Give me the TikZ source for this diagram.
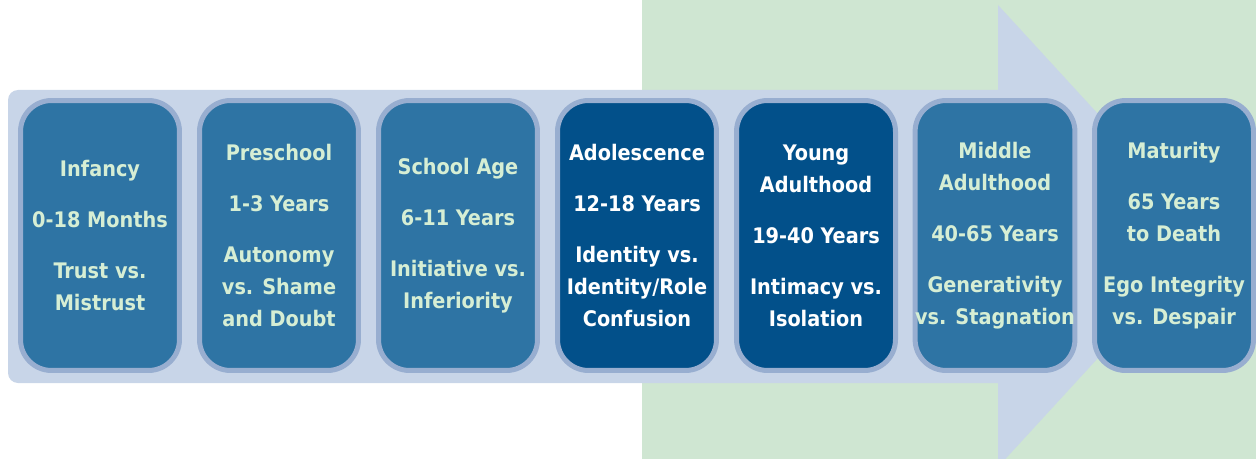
\documentclass[tikz,border=0pt]{standalone}
\usepackage{fontspec}
\setmainfont{DejaVu Sans Condensed}
\usepackage{tikz}

\definecolor{greenbg}{HTML}{CFE6D2}
\definecolor{arrowblue}{HTML}{C8D5E8}
\definecolor{stageblue}{HTML}{2E74A4}
\definecolor{stagedark}{HTML}{02508A}
\definecolor{stageborder}{HTML}{98AED0}
\definecolor{stagetext}{HTML}{D6EED4}

\begin{document}
\begin{tikzpicture}[x=0.02cm, y=-0.02cm,
    stage/.style={draw=stageborder, line width=0.1cm, fill=stageblue, rounded corners=0.62cm,
      minimum width=3.18cm, minimum height=5.4cm, inner sep=0pt, align=center, text=stagetext,
      font=\bfseries\fontsize{12.2}{18.2}\selectfont},
    keystage/.style={stage, fill=stagedark, text=white}]
			\useasboundingbox (0,0) rectangle (1256,459);
			\clip (0,0) rectangle (1256,459);
			% background and the big arrow
			\fill[greenbg] (642,0) rectangle (1256,459);
			\fill[arrowblue, rounded corners=0.2cm] (8,90) rectangle (1020,383);
			\fill[arrowblue] (998,5) -- (1210,236) -- (998,467) -- cycle;
			% the stages
			\node[stage] (infancy) at (100,235.5) {Infancy\\[10.8pt] 0-18 Months\\[10.8pt] Trust vs.\\ Mistrust};
			\node[stage] (preschool) at (279,235.5) {Preschool\\[10.8pt] 1-3 Years\\[10.8pt] Autonomy\\ vs. Shame\\ and Doubt};
			\node[stage] (schoolage) at (458,235.5) {School Age\\[10.8pt] 6-11 Years\\[10.8pt] Initiative vs.\\ Inferiority};
			\node[keystage] (adolescence) at (637,235.5) {Adolescence\\[10.8pt] 12-18 Years\\[10.8pt] Identity vs.\\ Identity/Role\\ Confusion};
			\node[keystage] (youngadult) at (816,235.5) {Young\\ Adulthood\\[10.8pt] 19-40 Years\\[10.8pt] Intimacy vs.\\ Isolation};
			\node[stage] (middleadult) at (995,235.5) {Middle\\ Adulthood\\[10.8pt] 40-65 Years\\[10.8pt] Generativity\\ vs. Stagnation};
			\node[stage] (maturity) at (1174,235.5) {Maturity\\[10.8pt] 65 Years\\ to Death\\[10.8pt] Ego Integrity\\ vs. Despair};
		\end{tikzpicture}
\end{document}
